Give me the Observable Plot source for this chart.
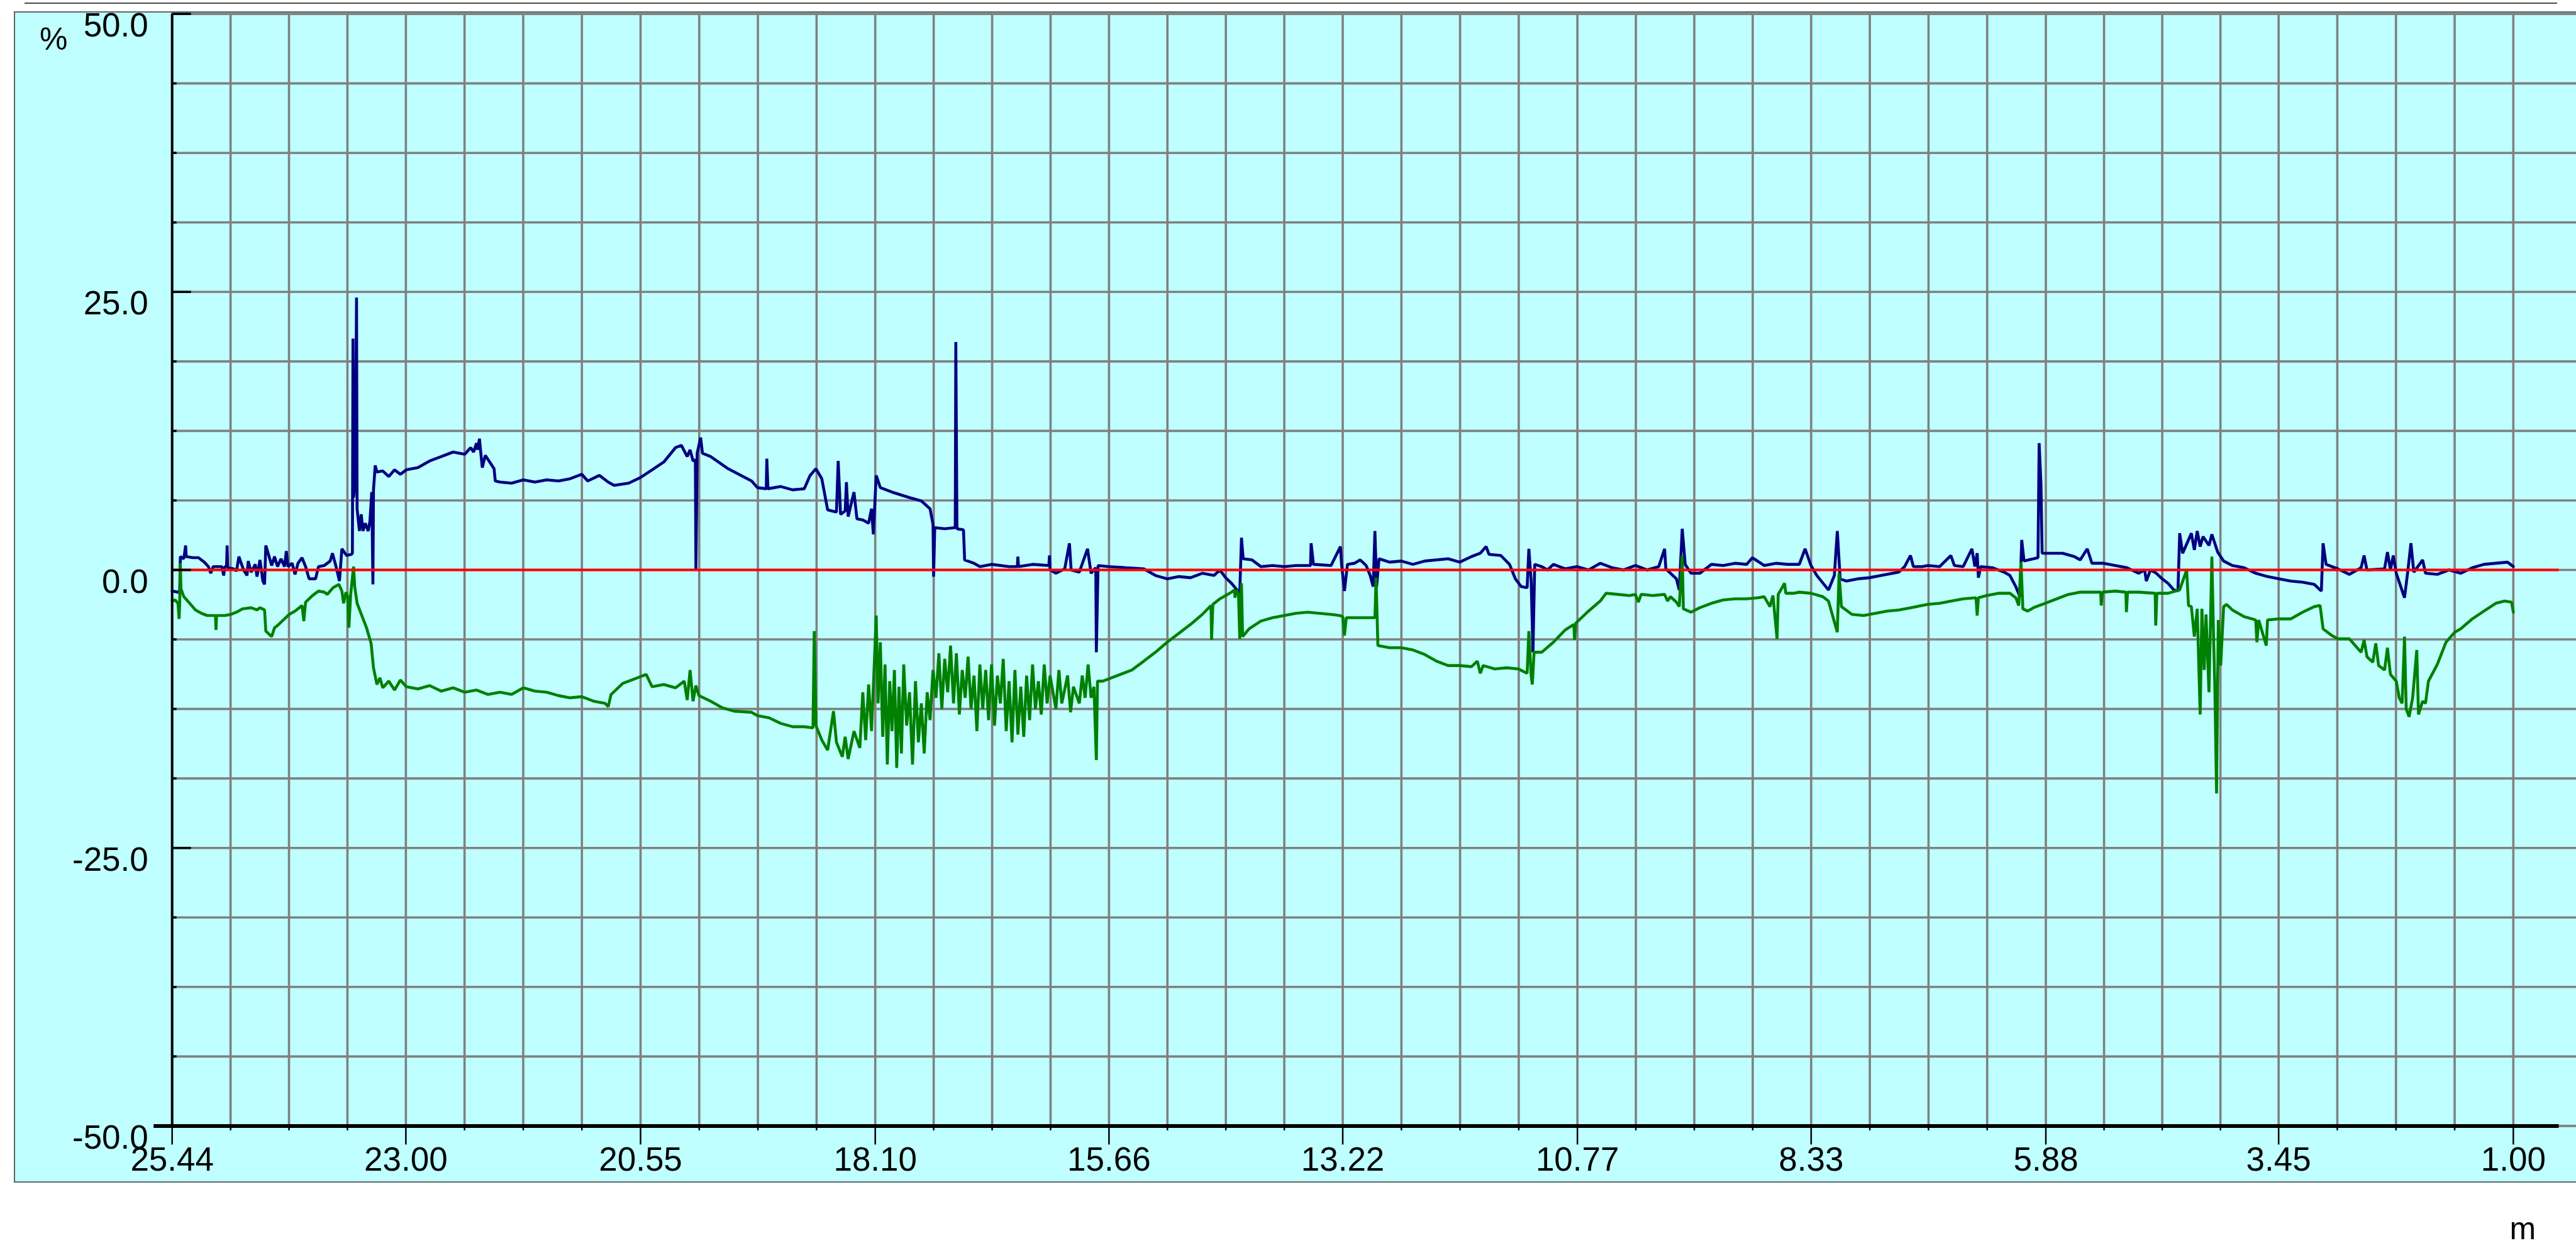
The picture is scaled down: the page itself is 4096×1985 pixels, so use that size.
<!DOCTYPE html>
<html>
<head>
<meta charset="utf-8">
<script src="https://cdn.jsdelivr.net/npm/d3@7"></script>
<script src="https://cdn.jsdelivr.net/npm/@observablehq/plot@0.6"></script>
<style>
  html, body { margin: 0; padding: 0; background: #ffffff; }
  #wrap { position: relative; width: 4096px; height: 1985px; overflow: hidden; }
  #topline { position: absolute; left: 38.7px; top: 4.2px; width: 4027px; height: 2px; background: #4a4a4a; }
  #panel { position: absolute; left: 22px; top: 18.4px; width: 4110px; height: 1862.6px; box-sizing: border-box;
           background: #bfffff; border: 2px solid #5a6666; }
  #chart { position: absolute; left: 0; top: 0; }
</style>
</head>
<body>
<div id="wrap">
  <div id="topline"></div>
  <div id="panel"></div>
  <div id="chart"></div>
</div>
<script>
// ---- axis labels ----
const xLabels = ["25.44", "23.00", "20.55", "18.10", "15.66", "13.22", "10.77", "8.33", "5.88", "3.45", "1.00"];
const yLabels = ["50.0", "25.0", "0.0", "-25.0", "-50.0"];
const xUnit = "m";
const yUnit = "%";

// ---- blue series [distance m, %] ----
const blueSeries = [
  [25.440,-1.9],[25.379,-2.0],[25.361,-1.9],[25.354,1.2],[25.318,1.0],[25.299,2.2],[25.293,1.2],[25.226,1.1],
  [25.165,1.1],[25.104,0.7],[25.061,0.3],[25.037,-0.3],[25.012,0.3],[24.921,0.3],[24.902,-0.5],[24.890,0.3],
  [24.872,0.3],[24.866,2.2],[24.860,0.2],[24.798,0.1],[24.768,-0.1],[24.743,1.2],[24.719,0.6],[24.694,0.0],
  [24.658,-0.5],[24.646,0.8],[24.615,-0.2],[24.572,0.5],[24.554,-0.6],[24.523,0.9],[24.493,-1.0],[24.475,-1.3],
  [24.462,2.2],[24.438,1.5],[24.401,0.4],[24.371,1.2],[24.340,0.3],[24.303,1.0],[24.267,0.3],[24.248,1.7],
  [24.230,0.3],[24.187,0.6],[24.157,-0.4],[24.126,0.6],[24.084,1.1],[24.047,0.3],[24.010,-0.8],[23.943,-0.8],
  [23.912,0.3],[23.851,0.4],[23.790,0.8],[23.766,1.5],[23.729,0.3],[23.693,-1.0],[23.668,1.9],[23.619,1.3],
  [23.570,1.4],[23.558,1.5],[23.552,20.8],[23.546,6.5],[23.528,8.0],[23.515,24.5],[23.509,5.5],[23.485,3.5],
  [23.466,5.0],[23.448,3.5],[23.424,4.2],[23.393,3.5],[23.375,4.4],[23.356,7.0],[23.344,-1.3],[23.338,7.2],
  [23.320,9.4],[23.302,8.8],[23.241,8.9],[23.179,8.4],[23.118,9.0],[23.057,8.6],[22.996,9.0],[22.874,9.2],
  [22.752,9.8],[22.629,10.2],[22.507,10.6],[22.385,10.4],[22.324,11.0],[22.293,10.6],[22.263,11.4],[22.251,10.8],
  [22.232,11.8],[22.214,10.2],[22.202,9.2],[22.171,10.3],[22.079,9.1],[22.067,8.0],[22.018,7.9],[21.896,7.8],
  [21.774,8.1],[21.652,7.9],[21.530,8.1],[21.407,8.0],[21.285,8.2],[21.163,8.6],[21.102,8.0],[20.980,8.5],
  [20.888,7.9],[20.827,7.6],[20.674,7.8],[20.552,8.3],[20.430,9.0],[20.308,9.7],[20.185,11.0],[20.124,11.2],
  [20.063,10.2],[20.033,10.8],[20.002,9.8],[19.978,9.9],[19.972,0.0],[19.959,10.5],[19.923,11.9],[19.904,10.5],
  [19.819,10.2],[19.636,9.1],[19.391,8.0],[19.330,7.4],[19.238,7.3],[19.232,10.0],[19.220,7.3],[19.086,7.5],
  [18.963,7.2],[18.841,7.3],[18.780,8.5],[18.719,9.1],[18.658,8.2],[18.597,5.4],[18.505,5.2],[18.487,9.8],
  [18.462,5.0],[18.414,5.3],[18.401,7.9],[18.383,4.8],[18.322,7.0],[18.291,4.6],[18.230,4.5],[18.169,4.2],
  [18.139,5.5],[18.120,3.2],[18.090,8.5],[18.047,7.4],[17.925,7.0],[17.742,6.5],[17.619,6.2],[17.528,5.5],
  [17.497,4.1],[17.491,-0.6],[17.479,3.8],[17.375,3.7],[17.265,3.8],[17.259,20.5],[17.247,3.7],[17.179,3.6],
  [17.167,0.9],[17.069,0.6],[17.008,0.3],[16.886,0.5],[16.703,0.3],[16.617,0.3],[16.611,1.2],[16.605,0.3],
  [16.458,0.5],[16.288,0.4],[16.281,1.3],[16.275,0.0],[16.214,-0.3],[16.122,0.1],[16.073,2.4],[16.055,0.0],
  [15.970,-0.2],[15.884,1.9],[15.847,-0.3],[15.798,0.2],[15.792,-7.4],[15.774,0.4],[15.664,0.3],[15.481,0.2],
  [15.297,0.1],[15.175,-0.5],[15.053,-0.8],[14.931,-0.6],[14.809,-0.7],[14.686,-0.3],[14.564,-0.5],[14.503,0.0],
  [14.442,-0.7],[14.381,-1.2],[14.295,-2.1],[14.277,2.9],[14.259,1.0],[14.167,0.9],[14.075,0.3],[13.953,0.4],
  [13.831,0.3],[13.709,0.4],[13.556,0.4],[13.550,2.4],[13.526,0.5],[13.342,0.4],[13.244,2.1],[13.232,0.5],
  [13.202,-1.9],[13.171,0.5],[13.098,0.6],[13.037,0.9],[12.976,0.4],[12.933,-0.5],[12.902,-1.5],[12.884,3.5],
  [12.866,-1.5],[12.841,1.0],[12.731,0.7],[12.609,0.8],[12.487,0.5],[12.365,0.8],[12.242,0.9],[12.120,1.0],
  [11.998,0.7],[11.876,1.2],[11.784,1.5],[11.723,2.1],[11.693,1.4],[11.570,1.3],[11.479,0.5],[11.418,-0.8],
  [11.356,-1.5],[11.295,-1.6],[11.277,1.9],[11.253,-1.0],[11.234,-7.4],[11.216,0.5],[11.143,0.3],[11.082,0.0],
  [11.021,0.5],[10.898,0.1],[10.776,0.3],[10.654,0.0],[10.532,0.6],[10.409,0.2],[10.287,0.0],[10.165,0.4],
  [10.043,0.0],[9.921,0.3],[9.860,1.9],[9.847,0.1],[9.737,-0.8],[9.707,-1.8],[9.676,3.7],[9.645,0.5],
  [9.585,-0.3],[9.493,-0.3],[9.371,0.5],[9.249,0.4],[9.126,0.6],[9.004,0.5],[8.943,1.1],[8.821,0.4],
  [8.699,0.6],[8.576,0.5],[8.454,0.5],[8.393,1.9],[8.332,0.4],[8.271,-0.5],[8.149,-1.8],[8.088,-0.5],
  [8.057,3.5],[8.027,-0.8],[7.965,-1.0],[7.843,-0.8],[7.721,-0.7],[7.599,-0.5],[7.416,-0.2],[7.354,0.3],
  [7.293,1.3],[7.263,0.3],[7.171,0.3],[7.110,0.4],[6.988,0.3],[6.872,1.3],[6.835,0.4],[6.743,0.3],
  [6.652,1.9],[6.621,0.3],[6.597,1.5],[6.584,-0.7],[6.560,0.3],[6.438,0.2],[6.316,-0.2],[6.255,-0.5],
  [6.194,-1.5],[6.151,-2.4],[6.132,2.7],[6.108,0.8],[6.010,1.0],[5.962,1.1],[5.950,11.4],[5.931,7.7],
  [5.919,1.5],[5.827,1.5],[5.705,1.5],[5.583,1.2],[5.521,0.9],[5.448,1.9],[5.399,0.6],[5.277,0.6],
  [5.155,0.4],[5.033,0.2],[4.910,-0.3],[4.849,0.0],[4.831,-1.0],[4.788,0.0],[4.727,-0.3],[4.666,-0.8],
  [4.605,-1.2],[4.544,-1.8],[4.501,-1.9],[4.483,3.3],[4.452,1.5],[4.391,2.7],[4.361,3.3],[4.330,1.8],
  [4.300,3.5],[4.269,2.1],[4.239,3.0],[4.177,2.2],[4.147,3.2],[4.086,1.6],[4.024,0.8],[3.933,0.4],
  [3.811,0.2],[3.689,-0.3],[3.566,-0.6],[3.444,-0.8],[3.322,-1.0],[3.200,-1.1],[3.078,-1.3],[3.004,-1.9],
  [2.986,2.4],[2.955,0.5],[2.833,0.1],[2.711,-0.4],[2.589,0.2],[2.558,1.3],[2.528,0.0],[2.344,0.1],
  [2.314,1.6],[2.283,0.0],[2.253,1.3],[2.222,-0.3],[2.136,-2.5],[2.100,0.0],[2.069,2.4],[2.039,-0.2],
  [1.947,0.9],[1.917,-0.3],[1.794,-0.4],[1.672,0.0],[1.550,-0.3],[1.428,0.2],[1.306,0.5],[1.183,0.6],
  [1.061,0.7],[1.000,0.3]
];

// ---- green series [distance m, %] ----
const greenSeries = [
  [25.440,-2.8],[25.409,-2.7],[25.379,-3.0],[25.367,-4.4],[25.361,-3.0],[25.354,0.6],[25.348,-1.7],[25.318,-2.4],
  [25.257,-3.0],[25.196,-3.6],[25.134,-3.9],[25.073,-4.1],[24.988,-4.1],[24.982,-5.4],[24.976,-4.1],[24.890,-4.1],
  [24.829,-4.0],[24.768,-3.8],[24.707,-3.5],[24.615,-3.4],[24.554,-3.6],[24.523,-3.4],[24.475,-3.6],[24.462,-5.5],
  [24.401,-6.0],[24.371,-5.2],[24.340,-5.0],[24.279,-4.5],[24.218,-4.0],[24.157,-3.7],[24.084,-3.2],[24.065,-4.6],
  [24.047,-2.9],[23.974,-2.3],[23.912,-1.9],[23.851,-2.0],[23.821,-2.2],[23.760,-1.6],[23.699,-1.3],[23.668,-1.9],
  [23.650,-3.0],[23.625,-2.0],[23.607,-2.4],[23.595,-5.2],[23.576,-2.2],[23.546,0.3],[23.534,-1.5],[23.509,-3.0],
  [23.460,-4.1],[23.411,-5.2],[23.363,-6.6],[23.338,-8.8],[23.302,-10.3],[23.271,-9.7],[23.241,-10.6],[23.179,-10.0],
  [23.118,-10.8],[23.057,-9.9],[22.996,-10.5],[22.874,-10.7],[22.752,-10.4],[22.629,-10.9],[22.507,-10.6],[22.385,-11.0],
  [22.263,-10.8],[22.141,-11.2],[22.018,-11.0],[21.896,-11.2],[21.774,-10.6],[21.652,-10.9],[21.530,-11.0],[21.407,-11.3],
  [21.285,-11.5],[21.163,-11.4],[21.041,-11.8],[20.919,-12.0],[20.888,-12.3],[20.858,-11.2],[20.735,-10.2],[20.613,-9.8],
  [20.491,-9.4],[20.430,-10.5],[20.308,-10.3],[20.185,-10.6],[20.094,-10.0],[20.063,-11.7],[20.033,-9.0],[20.002,-11.8],
  [19.972,-10.4],[19.941,-11.3],[19.819,-11.8],[19.697,-12.4],[19.574,-12.7],[19.391,-12.8],[19.330,-13.1],[19.208,-13.3],
  [19.086,-13.8],[18.963,-14.1],[18.841,-14.1],[18.750,-14.2],[18.737,-5.5],[18.719,-14.0],[18.658,-15.3],[18.597,-16.2],
  [18.536,-12.7],[18.505,-15.5],[18.444,-16.8],[18.414,-15.0],[18.383,-17.0],[18.322,-14.5],[18.261,-16.0],[18.230,-11.0],
  [18.200,-15.3],[18.169,-10.3],[18.139,-14.5],[18.108,-8.0],[18.090,-4.1],[18.071,-12.0],[18.047,-6.5],[18.022,-15.0],
  [17.998,-8.5],[17.974,-17.5],[17.949,-10.0],[17.925,-14.5],[17.900,-9.0],[17.876,-17.8],[17.852,-10.5],[17.827,-16.5],
  [17.803,-8.5],[17.772,-14.0],[17.742,-11.0],[17.711,-17.5],[17.680,-10.0],[17.650,-15.5],[17.619,-12.0],[17.589,-16.5],
  [17.558,-11.0],[17.528,-13.5],[17.497,-9.0],[17.466,-11.5],[17.436,-7.5],[17.405,-12.5],[17.375,-8.0],[17.344,-11.0],
  [17.314,-6.8],[17.283,-12.0],[17.253,-7.5],[17.222,-13.0],[17.192,-9.0],[17.161,-11.5],[17.131,-7.8],[17.100,-12.5],
  [17.069,-9.5],[17.039,-14.5],[17.008,-8.5],[16.978,-12.5],[16.947,-9.0],[16.917,-13.5],[16.886,-8.5],[16.855,-14.0],
  [16.825,-9.5],[16.794,-12.0],[16.764,-8.0],[16.733,-14.5],[16.703,-10.0],[16.672,-15.5],[16.642,-9.0],[16.611,-14.8],
  [16.581,-10.5],[16.550,-15.0],[16.520,-9.5],[16.489,-13.5],[16.458,-8.5],[16.428,-12.5],[16.397,-10.0],[16.367,-13.0],
  [16.336,-8.5],[16.306,-12.0],[16.275,-9.5],[16.214,-12.5],[16.183,-9.0],[16.153,-12.0],[16.092,-9.5],[16.061,-12.8],
  [16.031,-10.5],[15.970,-12.0],[15.939,-9.5],[15.909,-11.5],[15.878,-8.5],[15.847,-11.5],[15.817,-10.5],[15.792,-17.1],
  [15.780,-10.0],[15.725,-10.0],[15.664,-9.8],[15.542,-9.4],[15.420,-9.0],[15.297,-8.2],[15.175,-7.4],[15.053,-6.5],
  [14.931,-5.7],[14.809,-4.9],[14.686,-4.0],[14.595,-3.2],[14.589,-6.3],[14.576,-3.1],[14.503,-2.6],[14.442,-2.3],
  [14.381,-2.0],[14.350,-1.8],[14.344,-2.5],[14.332,-1.8],[14.308,-2.2],[14.295,-6.2],[14.277,-1.2],[14.265,-6.0],
  [14.198,-5.3],[14.075,-4.6],[13.953,-4.3],[13.831,-4.1],[13.709,-3.9],[13.587,-3.8],[13.464,-3.9],[13.342,-4.0],
  [13.251,-4.1],[13.220,-4.2],[13.202,-5.9],[13.183,-4.3],[13.098,-4.3],[12.976,-4.3],[12.884,-4.3],[12.872,-0.7],
  [12.853,-6.8],[12.731,-7.0],[12.609,-7.0],[12.487,-7.2],[12.365,-7.6],[12.242,-8.2],[12.120,-8.6],[11.998,-8.6],
  [11.876,-8.7],[11.815,-8.2],[11.784,-9.3],[11.754,-8.6],[11.632,-8.9],[11.509,-8.8],[11.387,-8.9],[11.295,-9.3],
  [11.277,-5.5],[11.253,-9.5],[11.241,-10.3],[11.222,-7.4],[11.143,-7.4],[11.021,-6.5],[10.898,-5.4],[10.807,-4.9],
  [10.800,-6.3],[10.788,-4.8],[10.654,-3.7],[10.532,-2.8],[10.471,-2.1],[10.349,-2.2],[10.226,-2.3],[10.165,-2.2],
  [10.134,-2.9],[10.104,-2.2],[9.982,-2.3],[9.860,-2.2],[9.829,-2.8],[9.799,-2.4],[9.737,-2.9],[9.707,-3.3],
  [9.676,1.3],[9.664,-3.5],[9.585,-3.8],[9.493,-3.4],[9.371,-3.0],[9.249,-2.7],[9.126,-2.6],[9.004,-2.6],
  [8.882,-2.5],[8.821,-2.4],[8.760,-3.3],[8.729,-2.3],[8.686,-6.2],[8.674,-2.2],[8.607,-1.2],[8.595,-2.1],
  [8.515,-2.1],[8.454,-2.0],[8.332,-2.1],[8.210,-2.4],[8.149,-2.8],[8.057,-5.6],[8.039,-0.3],[8.014,-3.3],
  [7.904,-4.0],[7.782,-4.1],[7.660,-3.9],[7.538,-3.7],[7.416,-3.6],[7.293,-3.4],[7.171,-3.2],[7.110,-3.1],
  [6.988,-3.0],[6.866,-2.8],[6.743,-2.6],[6.609,-2.5],[6.597,-4.1],[6.584,-2.5],[6.499,-2.3],[6.377,-2.1],
  [6.255,-2.1],[6.194,-2.5],[6.163,-3.2],[6.139,0.7],[6.120,-3.5],[6.071,-3.7],[6.010,-3.4],[5.950,-3.2],
  [5.888,-3.0],[5.766,-2.6],[5.644,-2.2],[5.521,-2.0],[5.399,-2.0],[5.308,-2.0],[5.302,-3.2],[5.289,-2.0],
  [5.155,-1.9],[5.045,-2.0],[5.039,-3.8],[5.027,-2.0],[4.910,-2.0],[4.739,-2.1],[4.733,-5.0],[4.721,-2.1],
  [4.605,-2.1],[4.483,-1.8],[4.410,0.0],[4.391,-3.2],[4.361,-3.3],[4.330,-6.0],[4.300,-3.5],[4.269,-13.0],
  [4.251,-3.5],[4.227,-9.0],[4.208,-4.0],[4.177,-11.0],[4.147,1.2],[4.128,-6.5],[4.116,-10.5],[4.098,-20.1],
  [4.080,-4.5],[4.055,-8.6],[4.024,-3.3],[3.994,-3.1],[3.933,-3.6],[3.811,-4.2],[3.689,-4.5],[3.677,-6.5],
  [3.658,-4.5],[3.579,-6.8],[3.566,-4.5],[3.444,-4.4],[3.322,-4.4],[3.200,-3.8],[3.078,-3.3],[3.017,-3.2],
  [2.986,-5.3],[2.894,-5.9],[2.833,-6.2],[2.711,-6.2],[2.589,-7.4],[2.558,-6.3],[2.528,-7.8],[2.467,-8.3],
  [2.436,-6.6],[2.406,-8.6],[2.344,-9.0],[2.314,-7.0],[2.283,-9.4],[2.222,-10.0],[2.191,-11.5],[2.161,-12.0],
  [2.136,-6.0],[2.118,-12.5],[2.088,-13.2],[2.051,-11.5],[2.008,-7.2],[1.990,-13.0],[1.947,-11.8],[1.917,-12.0],
  [1.886,-10.0],[1.794,-8.5],[1.703,-6.5],[1.611,-5.6],[1.550,-5.3],[1.428,-4.4],[1.306,-3.7],[1.183,-3.0],
  [1.092,-2.8],[1.018,-2.9],[1.000,-3.8]
];

// ---- layout (pixels) ----
const W = 4096, H = 1985;
const mL = 273.2, mR = 27.5, mT = 21.6, mB = 194.6;
const frameW = W - mL - mR, frameH = H - mT - mB;

// ---- ticks / grid derived from the axis labels ----
const xMajor = xLabels.map(Number);
const xMinor = [];
for (let i = 0; i < xMajor.length - 1; i++) {
  for (let j = 1; j < 4; j++) xMinor.push(xMajor[i] + (xMajor[i + 1] - xMajor[i]) * j / 4);
}
const xGrid = xMajor.concat(xMinor);
const yMajor = yLabels.map(Number);
const yGrid = d3.range(-50, 50.001, 6.25);
const yMinor = yGrid.filter(v => !yMajor.some(m => Math.abs(m - v) < 1e-6));

const fontFamily = "'Liberation Sans', Arial, sans-serif";

const chart = Plot.plot({
  width: W, height: H,
  marginLeft: mL, marginRight: mR, marginTop: mT, marginBottom: mB,
  style: {background: "transparent", fontFamily, overflow: "visible"},
  x: {type: "linear", domain: [25.44, 0.523], axis: null},
  y: {type: "linear", domain: [-50, 50], axis: null},
  marks: [
    // grid
    Plot.ruleY(yGrid, {stroke: "#808080", strokeWidth: 3.6, insetRight: -30}),
    Plot.ruleX(xGrid.filter(v => v !== xMajor[0]), {stroke: "#808080", strokeWidth: 3.6}),
    // data
    Plot.line(blueSeries, {x: d => d[0], y: d => d[1], stroke: "#000080", strokeWidth: 4.6, strokeLinejoin: "miter"}),
    Plot.line(greenSeries, {x: d => d[0], y: d => d[1], stroke: "#008000", strokeWidth: 4.6, strokeLinejoin: "miter"}),
    // zero line
    Plot.ruleY([0], {stroke: "#ff0000", strokeWidth: 3.8}),
    // axes
    Plot.ruleX([xMajor[0]], {stroke: "#000000", strokeWidth: 4}),
    Plot.ruleY([-50], {stroke: "#000000", strokeWidth: 6, insetLeft: -29}),
    // y ticks (inward)
    Plot.ruleY(yMinor, {stroke: "#000000", strokeWidth: 3.6, insetRight: frameW - 7.5}),
    Plot.ruleY(yMajor, {stroke: "#000000", strokeWidth: 3.6, insetRight: frameW - 30.5}),
    // x ticks (outward)
    Plot.ruleX(xMinor, {stroke: "#000000", strokeWidth: 2.5, insetTop: frameH, insetBottom: -7.5}),
    Plot.ruleX(xMajor, {stroke: "#000000", strokeWidth: 2.5, insetTop: frameH, insetBottom: -30}),
    // tick labels
    Plot.text(yLabels, {y: d => +d, text: d => d, frameAnchor: "left", dx: -37.9, dy: -1.5,
      textAnchor: "end", lineAnchor: "top", fontSize: 53, fill: "#000000"}),
    Plot.text(xLabels, {x: d => +d, text: d => d, frameAnchor: "bottom", dy: 33.6,
      textAnchor: "middle", lineAnchor: "top", fontSize: 53, fill: "#000000"}),
    // units
    Plot.text([yUnit], {text: d => d, frameAnchor: "top-left", dx: -210.7, dy: 56.4,
      textAnchor: "start", lineAnchor: "bottom", fontSize: 50, fill: "#000000"}),
    Plot.text([xUnit], {text: d => d, frameAnchor: "bottom-right", dx: -78.5, dy: 180,
      textAnchor: "start", lineAnchor: "bottom", fontSize: 50, fill: "#000000"})
  ]
});
document.getElementById("chart").appendChild(chart);
</script>
</body>
</html>
